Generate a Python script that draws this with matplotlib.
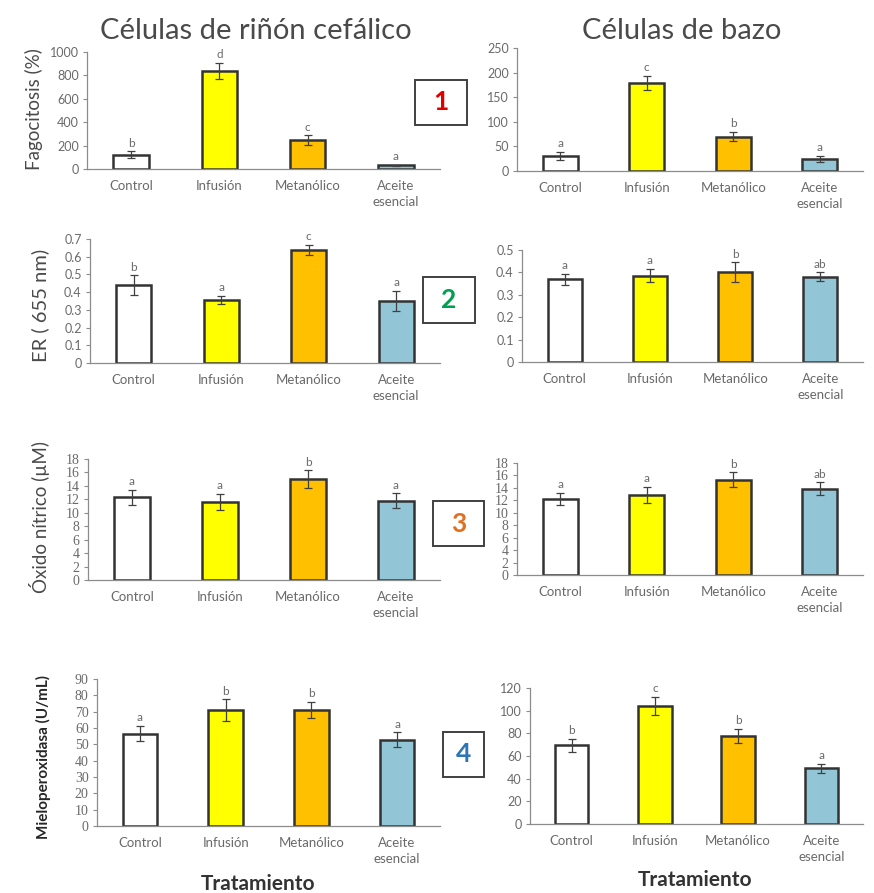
import matplotlib
matplotlib.use("Agg")
import matplotlib.pyplot as plt
from matplotlib.patches import Rectangle
from matplotlib.ticker import FuncFormatter
import numpy as np

plt.rcParams['font.family'] = ['Lato', 'DejaVu Sans']

# Data
treatments = ['Control', 'Infusión', 'Metanólico', 'Aceite\nesencial']
bar_colors = ['#FFFFFF', '#FFFF00', '#FFC000', '#92C5D6']

fago_rinon = [120, 840, 248, 30]
fago_rinon_err = [30, 70, 40, 8]
fago_rinon_lbl = ['b', 'd', 'c', 'a']
fago_bazo = [31, 179, 70, 24]
fago_bazo_err = [8, 15, 10, 6]
fago_bazo_lbl = ['a', 'c', 'b', 'a']

er_rinon = [0.44, 0.356, 0.638, 0.35]
er_rinon_err = [0.055, 0.025, 0.03, 0.055]
er_rinon_lbl = ['b', 'a', 'c', 'a']
er_bazo = [0.37, 0.385, 0.40, 0.38]
er_bazo_err = [0.025, 0.03, 0.045, 0.02]
er_bazo_lbl = ['a', 'a', 'b', 'ab']

no_rinon = [12.3, 11.6, 15.0, 11.8]
no_rinon_err = [1.1, 1.2, 1.3, 1.1]
no_rinon_lbl = ['a', 'a', 'b', 'a']
no_bazo = [12.2, 12.9, 15.3, 13.9]
no_bazo_err = [1.0, 1.3, 1.2, 1.0]
no_bazo_lbl = ['a', 'a', 'b', 'ab']

mpo_rinon = [56.6, 71, 71, 52.8]
mpo_rinon_err = [4.5, 6.5, 5, 4.5]
mpo_rinon_lbl = ['a', 'b', 'b', 'a']
mpo_bazo = [69.3, 104.4, 77.9, 49.3]
mpo_bazo_err = [6, 8, 6, 4]
mpo_bazo_lbl = ['b', 'c', 'b', 'a']

W, H = 874, 893
fig = plt.figure(figsize=(W / 100, H / 100), dpi=100)

def px_axes(l, t, r, b):
    return fig.add_axes([l / W, 1 - b / H, (r - l) / W, (b - t) / H])

grey = '#6a6a6a'

def panel(rect, vals, errs, lbls, ymax, step, serif=False):
    ax = px_axes(*rect)
    x = np.arange(len(treatments))
    ax.bar(x, vals, width=0.4, color=bar_colors, edgecolor='#333333', linewidth=1.8, zorder=2)
    ax.errorbar(x, vals, yerr=errs, fmt='none', ecolor='#404040', elinewidth=0.9,
                capsize=3, capthick=0.9, zorder=3)
    for xi, v, e, l in zip(x, vals, errs, lbls):
        ax.annotate(l, (xi, v + e), xytext=(0, 2), textcoords='offset points',
                    ha='center', va='bottom', fontsize=8.5, color=grey)
    ax.set_xlim(-0.5, 3.5)
    ax.set_ylim(0, ymax)
    ax.set_yticks(np.arange(0, ymax + step / 2, step))
    ax.yaxis.set_major_formatter(FuncFormatter(lambda v, p: '{:g}'.format(round(v, 3))))
    ax.set_xticks(x)
    ax.set_xticklabels(treatments, fontsize=9.5, color=grey, linespacing=1.4)
    ax.tick_params(axis='x', length=0, pad=8)
    ax.tick_params(axis='y', length=3, width=0.8, color='#8c8c8c', labelsize=9,
                   labelcolor=grey, pad=3)
    if serif:
        for t in ax.get_yticklabels():
            t.set_family('Liberation Serif')
            t.set_fontsize(10)
    for s in ['top', 'right']:
        ax.spines[s].set_visible(False)
    for s in ['left', 'bottom']:
        ax.spines[s].set_color('#8c8c8c')
        ax.spines[s].set_linewidth(0.9)
    return ax

panel((87, 52, 440, 169), fago_rinon, fago_rinon_err, fago_rinon_lbl, 1000, 200)
panel((517, 48, 863, 171), fago_bazo, fago_bazo_err, fago_bazo_lbl, 250, 50)
panel((90, 239, 440, 363), er_rinon, er_rinon_err, er_rinon_lbl, 0.7, 0.1)
panel((522, 250, 863, 362), er_bazo, er_bazo_err, er_bazo_lbl, 0.5, 0.1)
panel((88, 459, 440, 580), no_rinon, no_rinon_err, no_rinon_lbl, 18, 2, serif=True)
panel((517, 463, 863, 575), no_bazo, no_bazo_err, no_bazo_lbl, 18, 2, serif=True)
panel((97, 679, 440, 826), mpo_rinon, mpo_rinon_err, mpo_rinon_lbl, 90, 10, serif=True)
panel((530, 688, 863, 824), mpo_bazo, mpo_bazo_err, mpo_bazo_lbl, 120, 20)

def ftext(x, y, s, **kw):
    fig.text(x / W, 1 - y / H, s, ha='center', va='center', **kw)

# column titles
ftext(256, 31, 'Células de riñón cefálico', fontsize=21, color='#4a4a4a')
ftext(682, 31, 'Células de bazo', fontsize=21, color='#4a4a4a')

# y labels
ftext(34, 109, 'Fagocitosis (%)', fontsize=13.5, color='#4a4a4a', rotation=90)
ftext(40, 305, 'ER ( 655 nm)', fontsize=14.5, color='#4a4a4a', rotation=90)
ftext(40, 517, 'Óxido nítrico (µM)', fontsize=13.5, color='#4a4a4a', rotation=90)
ftext(43, 757, 'Mieloperoxidasa (U/mL)', fontsize=11, color='#262626', rotation=90,
      fontweight='bold')

# x labels
ftext(258, 884, 'Tratamiento', fontsize=15, color='#333333', fontweight='bold')
ftext(695, 880, 'Tratamiento', fontsize=15, color='#333333', fontweight='bold')

# numbered boxes
boxes = [(415, 80, 467, 125, '1', '#E00000'),
         (423, 277, 475, 323, '2', '#00A050'),
         (433, 501, 484, 546, '3', '#E07020'),
         (443, 732, 484, 777, '4', '#2E75B6')]
for l, t, r, b, num, col in boxes:
    fig.add_artist(Rectangle((l / W, 1 - b / H), (r - l) / W, (b - t) / H,
                             transform=fig.transFigure, fill=False,
                             edgecolor='#404040', linewidth=1.4))
    ftext((l + r) / 2, (t + b) / 2, num, fontsize=19, color=col, fontweight='bold')

fig.savefig('out.png', dpi=100)
